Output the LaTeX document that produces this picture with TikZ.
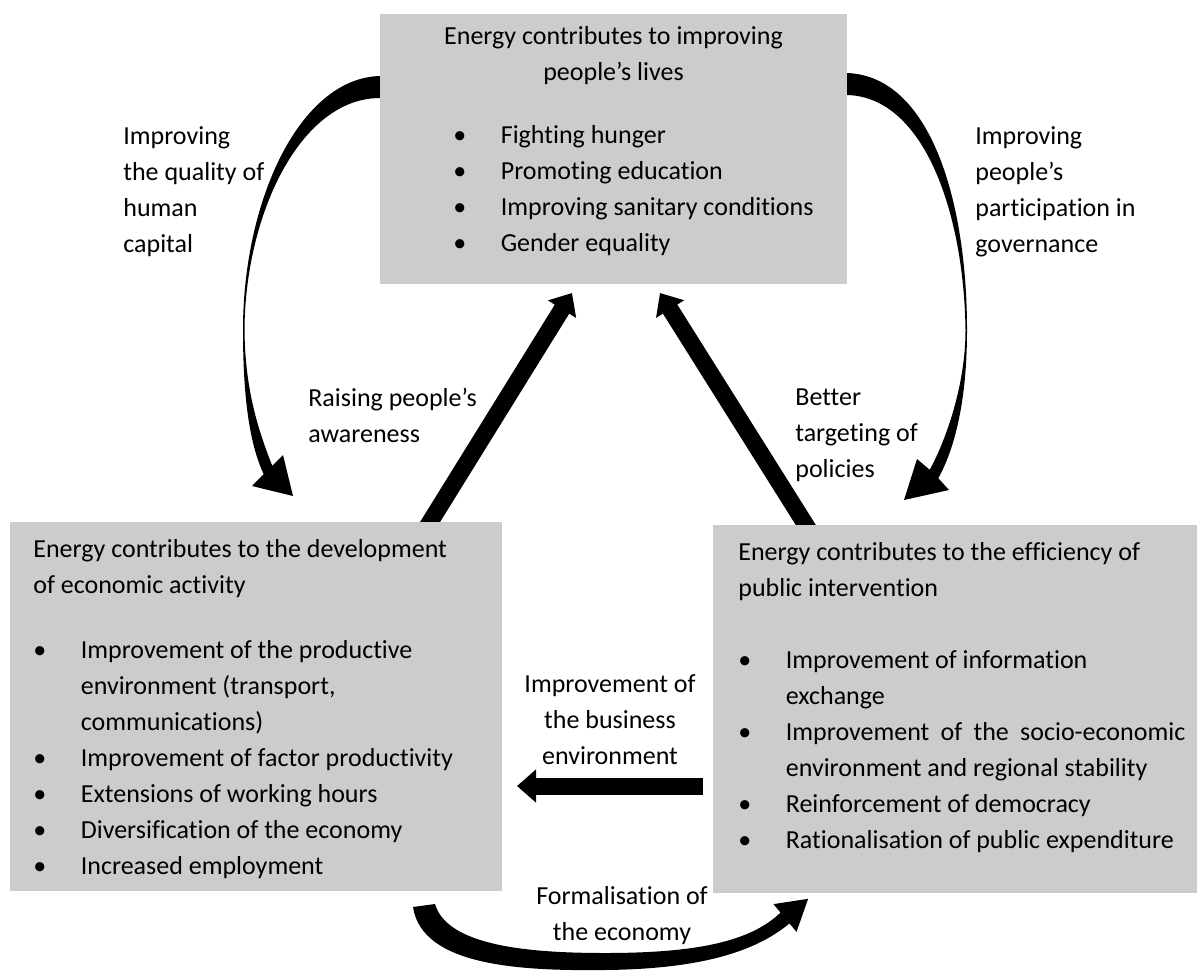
\documentclass[tikz,border=0pt]{standalone}
\usepackage{fontspec}
\setmainfont{Carlito}[Ligatures={TeX,NoCommon}]
\usetikzlibrary{arrows.meta,backgrounds}
\definecolor{panel}{HTML}{CCCCCC}
\definecolor{ink}  {HTML}{000000}
\newlength\bulind
\setlength\bulind{0.95cm}
% bullet paragraph with hanging indent
\newcommand\bl[1]{\par\noindent\hangindent=\bulind\hangafter=1%
  \makebox[\bulind][l]{\textbullet}#1}
\tikzset{
  panel/.style = {fill=panel, draw=none, inner sep=0pt},
  body/.style  = {font=\fontsize{14.8}{20.5}\selectfont, text=ink,
                  inner sep=0pt, align=flush left},
  push/.style  = {draw=ink, line width=0.34cm,
                  -{Triangle[length=0.38cm,width=0.64cm]}},
  swoop/.style = {fill=ink, draw=none},
}
\begin{document}
\begin{tikzpicture}[x=0.02cm,y=-0.02cm]
  \useasboundingbox (0,0) rectangle (1199,970);

  % panels
  \node[panel, anchor=north west, minimum width=9.34cm, minimum height=5.4cm]  (tbox) at (380,14) {};
  \node[panel, anchor=north west, minimum width=9.84cm, minimum height=7.38cm] (lbox) at (10,522) {};
  \node[panel, anchor=north west, minimum width=9.68cm, minimum height=7.36cm] (rbox) at (713,525) {};

  % top panel
  \node[body, align=center, anchor=north] (ttl) at (613.5,26)
    {Energy contributes to improving\\people’s lives};
  \node[body, text width=7.74cm, anchor=north west] (tlist) at (453,107)
    {\bl{Fighting hunger}\bl{Promoting education}%
     \bl{Improving sanitary conditions}\bl{Gender equality}};

  % left panel
  \node[body, text width=9.3cm, anchor=north west] (ltxt) at (33,539)
    {Energy contributes to the development\\of economic activity\par\vspace{0.58cm}%
     \bl{Improvement of the productive\newline environment (transport,\newline communications)}%
     \bl{Improvement of factor productivity}%
     \bl{Extensions of working hours}%
     \bl{Diversification of the economy}%
     \bl{Increased employment}};

  % right panel
  \node[body, align=justify, text width=8.94cm, anchor=north west] (rtxt) at (738,542)
    {Energy contributes to the efficiency of\newline public intervention\par\vspace{0.72cm}%
     \bl{Improvement of information\newline exchange}%
     \bl{Improvement of the socio-economic\linebreak environment and regional stability}%
     \bl{Reinforcement of democracy}%
     \bl{Rationalisation of public expenditure}};

  % arrow labels
  \node[body, anchor=north west] (quality) at (123,126) {Improving\\the quality of\\human\\capital};
  \node[body, anchor=north west] (govern) at (975,126) {Improving\\people’s\\participation in\\governance};
  \node[body, anchor=north west] (aware) at (308,388) {Raising people’s\\awareness};
  \node[body, anchor=north west] (target) at (795,388) {Better\\targeting of\\policies};
  \node[body, align=center, anchor=north] (business) at (610,674) {Improvement of\\the business\\environment};
  \node[body, align=center, anchor=north] (formal) at (622,886) {Formalisation of\\the economy};

  \begin{scope}[on background layer]
    % straight arrows
    \coordinate (awT) at (422,535);  \coordinate (awH) at (572,293);
    \coordinate (tgT) at (814,538);  \coordinate (tgH) at (660,293);
    \coordinate (bzT) at (703,786);  \coordinate (bzH) at (517,786);
    \draw[push] (awT) -- (awH);
    \draw[push] (tgT) -- (tgH);
    \draw[push] (bzT) -- (bzH);

    % curved arrows
    \fill[swoop] (380,76) .. controls (300,78) and (243,200) .. (243,330)
      .. controls (243,400) and (250,445) .. (263.7,474.2)
      -- (252,486) -- (293,496) -- (283,455) -- (272.3,465.8)
      .. controls (256,425) and (245,385) .. (244.5,330)
      .. controls (245,215) and (300,98) .. (380,98) -- cycle;
    \fill[swoop] (847,73) .. controls (930,76) and (967,200) .. (967,330)
      .. controls (967,400) and (955,448) .. (938.3,478.2)
      -- (949,490) -- (904,500) -- (917,459) -- (929.7,469.8)
      .. controls (946,440) and (965.5,385) .. (965.5,330)
      .. controls (964,215) and (925,97) .. (847,95) -- cycle;
    \fill[swoop] (413,907) .. controls (422,966) and (520,971) .. (605,970)
      .. controls (700,969) and (755,952) .. (789.5,923.4)
      -- (796.5,931.9) -- (808.1,898.8) -- (773.5,904.1) -- (780.5,912.6)
      .. controls (750,942) and (695,953) .. (605,953)
      .. controls (525,953) and (447,945) .. (435,904) -- cycle;
  \end{scope}
\end{tikzpicture}
\end{document}
